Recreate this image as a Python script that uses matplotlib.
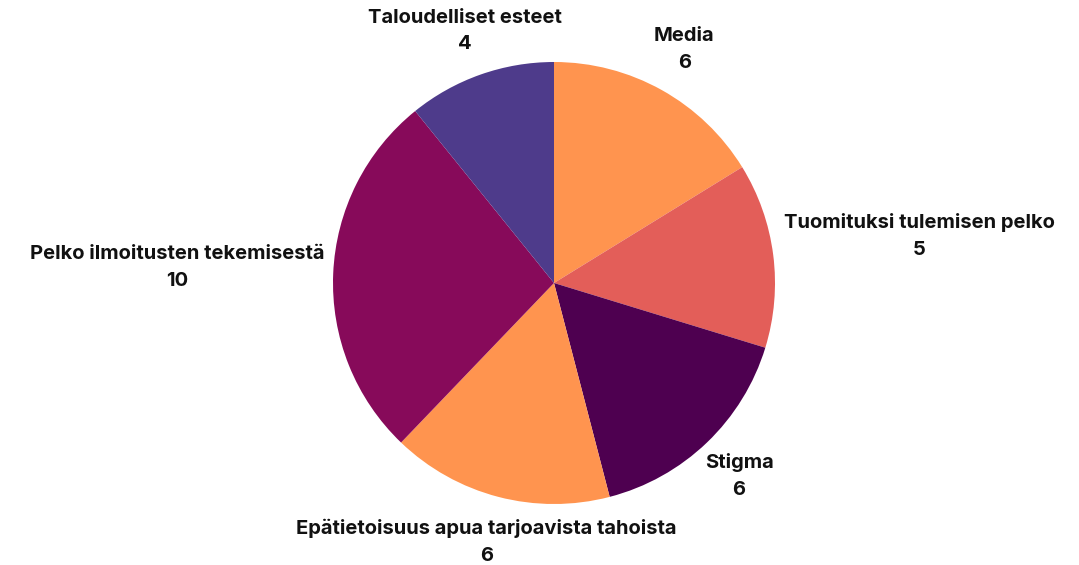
import numpy as np
import matplotlib.pyplot as plt

labels = ['Media', 'Tuomituksi tulemisen pelko', 'Stigma',
          'Epätietoisuus apua tarjoavista tahoista',
          'Pelko ilmoitusten tekemisestä', 'Taloudelliset esteet']
values = [6, 5, 6, 6, 10, 4]
colors = ['#FF944F', '#E35E59', '#4E0050', '#FF944F', '#870A5A', '#4E3B8B']

fig = plt.figure(figsize=(10.79, 5.65), dpi=100)
ax = fig.add_axes([0, 0, 1, 1])

wedges, _ = ax.pie(values, colors=colors, startangle=90, counterclock=False,
                   radius=1.0, wedgeprops=dict(linewidth=0))

font = dict(fontsize=14.5, fontweight='bold', family='Inter',
            linespacing=1.6, color='#111111')
for w, lab, v in zip(wedges, labels, values):
    ang = np.deg2rad((w.theta1 + w.theta2) / 2)
    x, y = np.cos(ang), np.sin(ang)
    txt = f'{lab}\n{v}'
    if abs(x) > 0.95:
        ax.text(1.04 * np.sign(x), 1.67 * y, txt,
                ha='left' if x > 0 else 'right', va='center',
                multialignment='center', **font)
    else:
        ax.text(1.21 * x, 1.21 * y, txt, ha='center', va='center',
                multialignment='center', **font)

ax.set_aspect('auto')
ax.set_xlim(-554 / 221, (1079 - 554) / 221)
ax.set_ylim(-(565 - 283) / 221, 283 / 221)
ax.axis('off')

fig.savefig('out.png', dpi=100)
